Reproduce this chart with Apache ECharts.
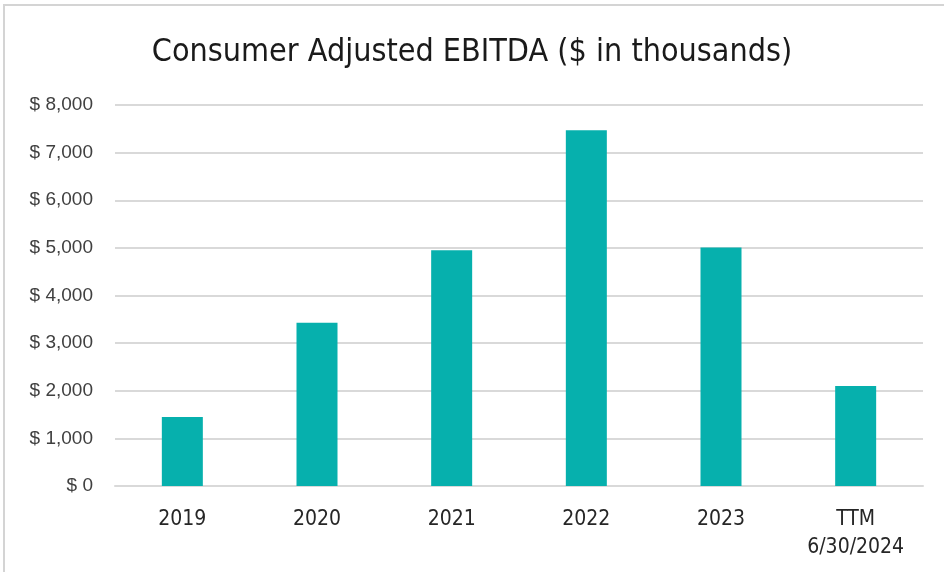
<!DOCTYPE html>
<html>
<head>
<meta charset="utf-8">
<style>
  html, body { margin: 0; padding: 0; background: #ffffff; }
  #chart { width: 944px; height: 572px; }
</style>
<script src="https://cdn.jsdelivr.net/npm/echarts@6/dist/echarts.min.js"></script>
</head>
<body>
<div id="chart"></div>
<script>
// Consumer Adjusted EBITDA by period ($ in thousands)
const categories = ['2019', '2020', '2021', '2022', '2023', 'TTM\n6/30/2024'];
const ebitda = [1450, 3430, 4950, 7470, 5010, 2100];
const yTicks = { min: 0, max: 8000, interval: 1000 };

const narrowFont = '"Liberation Sans Narrow", "DejaVu Sans Condensed", "Liberation Sans", sans-serif';

const chart = echarts.init(document.getElementById('chart'), null, { renderer: 'canvas' });
chart.setOption({
  backgroundColor: '#ffffff',
  animation: false,
  title: {
    text: 'Consumer Adjusted EBITDA ($ in thousands)',
    left: 'center',
    top: 32,
    textStyle: { fontFamily: narrowFont, fontSize: 32, fontWeight: 'normal', color: '#1a1a1a' }
  },
  graphic: [{
    type: 'rect',
    shape: { x: 4, y: 5, width: 1000, height: 1000 },
    style: { fill: 'none', stroke: '#d4d4d4', lineWidth: 2 },
    silent: true
  }],
  grid: { left: 115, right: 21, top: 105, bottom: 86, containLabel: false },
  xAxis: {
    type: 'category',
    data: categories,
    axisLine: { show: true, lineStyle: { color: '#d9d9d9', width: 2 } },
    axisTick: { show: false },
    axisLabel: {
      margin: 20,
      fontFamily: narrowFont,
      fontSize: 21,
      color: '#262626',
      lineHeight: 28
    }
  },
  yAxis: {
    type: 'value',
    min: yTicks.min,
    max: yTicks.max,
    interval: yTicks.interval,
    axisLine: { show: false },
    axisTick: { show: false },
    splitLine: { lineStyle: { color: '#d9d9d9', width: 2 } },
    axisLabel: {
      margin: 22,
      fontFamily: '"Liberation Sans", Arial, sans-serif',
      fontSize: 19,
      color: '#404040',
      formatter: v => '$ ' + v.toLocaleString('en-US')
    }
  },
  series: [{
    type: 'bar',
    data: ebitda,
    barWidth: 41,
    itemStyle: { color: '#06b0ad' }
  }]
});
</script>
</body>
</html>
